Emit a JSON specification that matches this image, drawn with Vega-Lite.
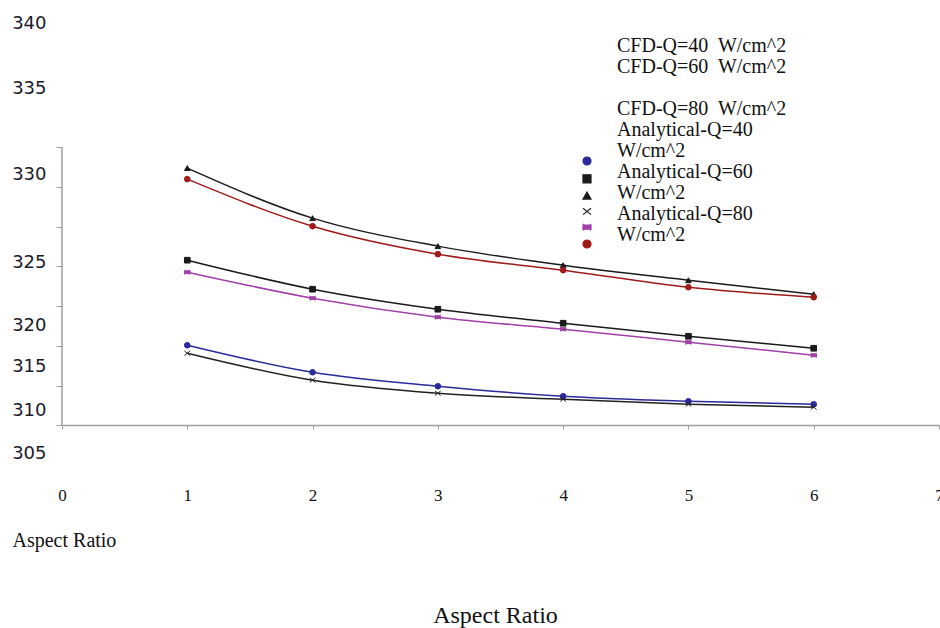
{
  "$schema": "https://vega.github.io/schema/vega-lite/v6.json",
  "autosize": {"type": "none"},
  "width": 877,
  "height": 453,
  "padding": {"left": 62, "top": 12, "right": 1, "bottom": 163},
  "background": "white",
  "config": {"view": {"stroke": null}, "axis": {"grid": false}},
  "title": {
    "text": ["CFD-Q=40\u00a0 W/cm^2", "CFD-Q=60\u00a0 W/cm^2"],
    "subtitle": ["CFD-Q=80\u00a0 W/cm^2", "Analytical-Q=40", "W/cm^2", "Analytical-Q=60", "W/cm^2", "Analytical-Q=80", "W/cm^2"],
    "anchor": "start",
    "frame": "group",
    "orient": "top",
    "dx": 555,
    "dy": 233,
    "offset": 0,
    "font": "Liberation Serif",
    "fontSize": 20,
    "fontWeight": "normal",
    "color": "#111111",
    "lineHeight": 21,
    "subtitleFont": "Liberation Serif",
    "subtitleFontSize": 20,
    "subtitleFontWeight": "normal",
    "subtitleColor": "#111111",
    "subtitleLineHeight": 21,
    "subtitlePadding": 22,
    "baseline": "top"
  },
  "data": {
    "values": [
      {"series": "CFD-Q=40 W/cm^2", "ar": 1, "t": 315.07},
      {"series": "CFD-Q=40 W/cm^2", "ar": 2, "t": 311.67},
      {"series": "CFD-Q=40 W/cm^2", "ar": 3, "t": 309.91},
      {"series": "CFD-Q=40 W/cm^2", "ar": 4, "t": 308.65},
      {"series": "CFD-Q=40 W/cm^2", "ar": 5, "t": 308.02},
      {"series": "CFD-Q=40 W/cm^2", "ar": 6, "t": 307.64},
      {"series": "CFD-Q=60 W/cm^2", "ar": 1, "t": 325.77},
      {"series": "CFD-Q=60 W/cm^2", "ar": 2, "t": 322.12},
      {"series": "CFD-Q=60 W/cm^2", "ar": 3, "t": 319.60},
      {"series": "CFD-Q=60 W/cm^2", "ar": 4, "t": 317.84},
      {"series": "CFD-Q=60 W/cm^2", "ar": 5, "t": 316.20},
      {"series": "CFD-Q=60 W/cm^2", "ar": 6, "t": 314.69},
      {"series": "CFD-Q=80 W/cm^2", "ar": 1, "t": 337.36},
      {"series": "CFD-Q=80 W/cm^2", "ar": 2, "t": 331.06},
      {"series": "CFD-Q=80 W/cm^2", "ar": 3, "t": 327.54},
      {"series": "CFD-Q=80 W/cm^2", "ar": 4, "t": 325.14},
      {"series": "CFD-Q=80 W/cm^2", "ar": 5, "t": 323.25},
      {"series": "CFD-Q=80 W/cm^2", "ar": 6, "t": 321.49},
      {"series": "Analytical-Q=40 W/cm^2", "ar": 1, "t": 314.06},
      {"series": "Analytical-Q=40 W/cm^2", "ar": 2, "t": 310.67},
      {"series": "Analytical-Q=40 W/cm^2", "ar": 3, "t": 309.03},
      {"series": "Analytical-Q=40 W/cm^2", "ar": 4, "t": 308.27},
      {"series": "Analytical-Q=40 W/cm^2", "ar": 5, "t": 307.64},
      {"series": "Analytical-Q=40 W/cm^2", "ar": 6, "t": 307.27},
      {"series": "Analytical-Q=60 W/cm^2", "ar": 1, "t": 324.26},
      {"series": "Analytical-Q=60 W/cm^2", "ar": 2, "t": 320.99},
      {"series": "Analytical-Q=60 W/cm^2", "ar": 3, "t": 318.60},
      {"series": "Analytical-Q=60 W/cm^2", "ar": 4, "t": 317.09},
      {"series": "Analytical-Q=60 W/cm^2", "ar": 5, "t": 315.45},
      {"series": "Analytical-Q=60 W/cm^2", "ar": 6, "t": 313.81},
      {"series": "Analytical-Q=80 W/cm^2", "ar": 1, "t": 335.97},
      {"series": "Analytical-Q=80 W/cm^2", "ar": 2, "t": 330.05},
      {"series": "Analytical-Q=80 W/cm^2", "ar": 3, "t": 326.53},
      {"series": "Analytical-Q=80 W/cm^2", "ar": 4, "t": 324.51},
      {"series": "Analytical-Q=80 W/cm^2", "ar": 5, "t": 322.37},
      {"series": "Analytical-Q=80 W/cm^2", "ar": 6, "t": 321.11}
    ]
  },
  "encoding": {
    "x": {
      "field": "ar", "type": "quantitative",
      "scale": {"domain": [0, 7], "nice": false, "zero": false},
      "axis": {
        "values": [0, 1, 2, 3, 4, 5, 6, 7],
        "offset": -40,
        "tickSize": 4,
        "domainColor": "#a0a0a0",
        "domainWidth": 1.5,
        "tickColor": "#a0a0a0",
        "labelFont": "Liberation Serif",
        "labelFontSize": 17,
        "labelColor": "#111111",
        "labelPadding": 58,
        "labelFlush": false,
        "labelOverlap": false,
        "title": "Aspect Ratio",
        "titleFont": "Liberation Serif",
        "titleFontSize": 24,
        "titleFontWeight": "normal",
        "titleColor": "#111111",
        "titleX": 433,
        "titleY": 190,
        "titleBaseline": "middle",
        "titleAlign": "center"
      }
    },
    "color": {
      "field": "series", "type": "nominal",
      "scale": {
        "domain": ["CFD-Q=40 W/cm^2", "CFD-Q=60 W/cm^2", "CFD-Q=80 W/cm^2", "Analytical-Q=40 W/cm^2", "Analytical-Q=60 W/cm^2", "Analytical-Q=80 W/cm^2"],
        "range": ["#2a2a9c", "#1a1a1a", "#1a1a1a", "#222222", "#a040a8", "#a01a1a"]
      },
      "legend": {
        "orient": "none",
        "legendX": 520,
        "legendY": 144,
        "padding": 0,
        "title": null,
        "labelExpr": "''",
        "labelFontSize": 10,
        "rowPadding": 3.8,
        "symbolSize": 64,
        "symbolStrokeWidth": 1.2
      }
    }
  },
  "layer": [
    {
      "mark": {"type": "line", "interpolate": "monotone", "strokeWidth": 1.5},
      "encoding": {
        "y": {
          "field": "t", "type": "quantitative",
          "scale": {"domain": [300, 357], "nice": false, "zero": false},
          "axis": {
            "orient": "left",
            "values": [305, 310, 315, 320, 325, 330, 335, 340],
            "labels": false,
            "domain": false,
            "tickSize": 6,
            "tickColor": "#a0a0a0",
            "title": "Aspect Ratio",
            "titleFont": "Liberation Serif",
            "titleFontSize": 20,
            "titleFontWeight": "normal",
            "titleColor": "#111111",
            "titleAngle": 0,
            "titleAlign": "left",
            "titleBaseline": "middle",
            "titleX": -50,
            "titleY": 528
          }
        }
      }
    },
    {
      "transform": [{"calculate": "datum.series", "as": "seriesShape"}],
      "mark": {"type": "point", "filled": true, "size": 32, "strokeWidth": 1, "opacity": 1},
      "encoding": {
        "y": {
          "field": "t", "type": "quantitative",
          "axis": {
            "orient": "left",
            "values": [355.5, 347.4, 336.5, 325.5, 317.6, 312.4, 306.9, 301.5],
            "labelExpr": "datum.value > 350 ? '340' : datum.value > 340 ? '335' : datum.value > 330 ? '330' : datum.value > 320 ? '325' : datum.value > 315 ? '320' : datum.value > 310 ? '315' : datum.value > 304 ? '310' : '305'",
            "domain": false,
            "ticks": false,
            "tickSize": 0,
            "labelPadding": 16,
            "labelFont": "DejaVu Sans",
            "labelFontSize": 18,
            "labelColor": "#1a1a2a",
            "labelOverlap": false,
            "labelFlush": false,
            "title": null
          }
        },
        "shape": {
          "field": "seriesShape", "type": "nominal",
          "scale": {
            "domain": ["CFD-Q=40 W/cm^2", "CFD-Q=60 W/cm^2", "CFD-Q=80 W/cm^2", "Analytical-Q=40 W/cm^2", "Analytical-Q=60 W/cm^2", "Analytical-Q=80 W/cm^2"],
            "range": ["circle", "square", "triangle-up", "M-1,-0.8L1,0.8M-1,0.8L1,-0.8", "M-1,-0.8L1,0.8M-1,0.8L1,-0.8M-1,-0.5H1V0.5H-1Z", "circle"]
          },
          "legend": null
        },
        "stroke": {
          "field": "seriesShape", "type": "nominal",
          "scale": {
            "domain": ["CFD-Q=40 W/cm^2", "CFD-Q=60 W/cm^2", "CFD-Q=80 W/cm^2", "Analytical-Q=40 W/cm^2", "Analytical-Q=60 W/cm^2", "Analytical-Q=80 W/cm^2"],
            "range": ["#2a2a9c", "#1a1a1a", "#1a1a1a", "#222222", "#a040a8", "#a01a1a"]
          },
          "legend": null
        }
      }
    },
    {
      "data": {"values": [{"x0": 0, "ylo": 305, "yhi": 340}]},
      "mark": {"type": "rule", "strokeWidth": 1.5},
      "encoding": {
        "x": {"field": "x0", "type": "quantitative"},
        "y": {"field": "ylo", "type": "quantitative", "axis": null},
        "y2": {"field": "yhi"},
        "color": {"value": "#a0a0a0"}
      }
    }
  ],
  "resolve": {"scale": {"y": "shared"}, "axis": {"y": "independent"}}
}
